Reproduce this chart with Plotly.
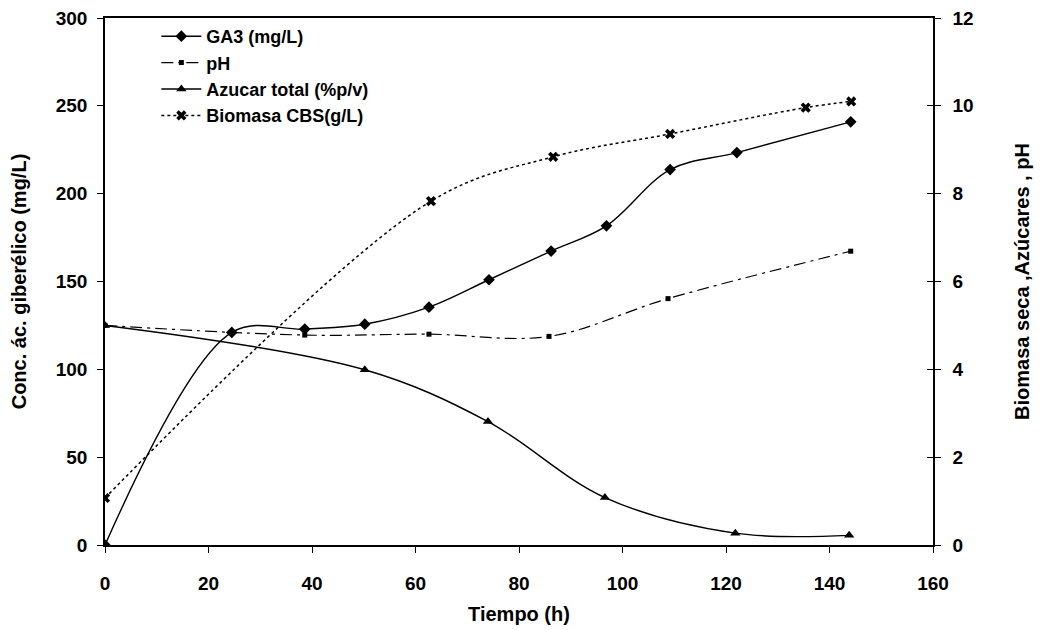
import plotly.graph_objects as go

# Data
t_ga3 = [0, 24.5, 38.6, 50.2, 62.6, 74.2, 86.2, 96.9, 109.2, 122.1, 144.1]
ga3 = [0, 121, 122.9, 125.7, 135.4, 151, 167.3, 181.7, 213.7, 223.4, 240.9]

t_ph = [0, 38.6, 62.6, 85.8, 108.8, 144.1]
ph = [5.0, 4.78, 4.80, 4.75, 5.61, 6.69]

t_azucar = [0, 50.2, 74.0, 96.6, 121.8, 143.8]
azucar = [5.0, 3.99, 2.81, 1.08, 0.27, 0.22]

t_biomasa = [0, 63.0, 86.6, 109.2, 135.4, 144.2]
biomasa = [1.07, 7.83, 8.84, 9.36, 9.96, 10.1]

x_ticks = [0, 20, 40, 60, 80, 100, 120, 140, 160]
y_left_ticks = [0, 50, 100, 150, 200, 250, 300]
y_right_ticks = [0, 2, 4, 6, 8, 10, 12]

FONT = "Liberation Sans, Arial, sans-serif"
BLACK = "black"

fig = go.Figure()

fig.add_trace(go.Scatter(
    x=t_ga3, y=ga3, name="GA3 (mg/L)", mode="lines+markers",
    line=dict(color=BLACK, width=1.4, shape="spline", smoothing=1.0),
    marker=dict(symbol="diamond", size=9, color=BLACK),
    yaxis="y", legendgroup="a"))

fig.add_trace(go.Scatter(
    x=t_ph, y=ph, name="pH", mode="lines+markers",
    line=dict(color=BLACK, width=1.2, shape="spline", smoothing=1.0,
              dash="12px,5px,3px,5px"),
    marker=dict(symbol="square", size=5, color=BLACK),
    yaxis="y2", legendgroup="b"))

fig.add_trace(go.Scatter(
    x=t_azucar, y=azucar, name="Azucar total (%p/v)", mode="lines+markers",
    line=dict(color=BLACK, width=1.4, shape="spline", smoothing=1.0),
    marker=dict(symbol="triangle-up", size=9, color=BLACK),
    yaxis="y2", legendgroup="c"))

fig.add_trace(go.Scatter(
    x=t_biomasa, y=biomasa, name="Biomasa CBS(g/L)", mode="lines+markers",
    line=dict(color=BLACK, width=1.5, shape="spline", smoothing=1.0, dash="dot"),
    marker=dict(symbol="x", size=9, color=BLACK),
    yaxis="y2", legendgroup="d"))

# invisible helper trace so the crossing-tick overlay axis renders
fig.add_trace(go.Scatter(x=[0], y=[0], mode="markers", marker=dict(opacity=0),
                         showlegend=False, hoverinfo="skip", yaxis="y3"))

tickfont = dict(family=FONT, size=19, color=BLACK, weight="bold")
titlefont = dict(family=FONT, size=20, color=BLACK, weight="bold")

# page body has an 8px margin, so the figure is sized to fit the window
fig.update_layout(
    width=1034, height=622,
    margin=dict(l=97, r=109, t=10, b=85, autoexpand=False),
    paper_bgcolor="white", plot_bgcolor="white",
    font=dict(family=FONT, color=BLACK),
    showlegend=True,
    legend=dict(x=0.062, y=1.0, xanchor="left", yanchor="top",
                bgcolor="rgba(0,0,0,0)", borderwidth=0,
                font=dict(family=FONT, size=18, color=BLACK, weight="bold"),
                tracegroupgap=0, itemwidth=40),
    xaxis=dict(range=[0, 160], tickvals=x_ticks, ticks="outside", ticklen=6,
               tickcolor=BLACK, showline=True, linecolor=BLACK, linewidth=1.5,
               mirror=True, showgrid=False, zeroline=False, automargin=False,
               tickfont=tickfont, ticklabelstandoff=14, ticklabeloverflow="allow",
               title=dict(text="Tiempo (h)", font=titlefont, standoff=14)),
    yaxis=dict(range=[0, 300], tickvals=y_left_ticks, ticks="outside", ticklen=6,
               tickcolor=BLACK, showline=True, linecolor=BLACK, linewidth=1.5,
               showgrid=False, zeroline=False, tickfont=tickfont, automargin=False,
               ticklabelstandoff=6, ticklabeloverflow="allow",
               title=dict(text="Conc. ác. giberélico (mg/L)", font=titlefont,
                          standoff=24)),
    yaxis2=dict(range=[0, 12], tickvals=y_right_ticks, overlaying="y", side="right",
                ticks="outside", ticklen=6, tickcolor=BLACK, showline=True,
                linecolor=BLACK, linewidth=1.5, showgrid=False, zeroline=False,
                tickfont=tickfont, ticklabelstandoff=8, automargin=False,
                ticklabeloverflow="allow",
                title=dict(text="Biomasa seca ,Azúcares , pH", font=titlefont,
                           standoff=42)),
    yaxis3=dict(range=[0, 12], tickvals=y_right_ticks, overlaying="y", side="right",
                ticks="inside", ticklen=6, tickcolor=BLACK, showline=False,
                showgrid=False, zeroline=False, showticklabels=False,
                automargin=False),
)

fig.write_html("out.html")
